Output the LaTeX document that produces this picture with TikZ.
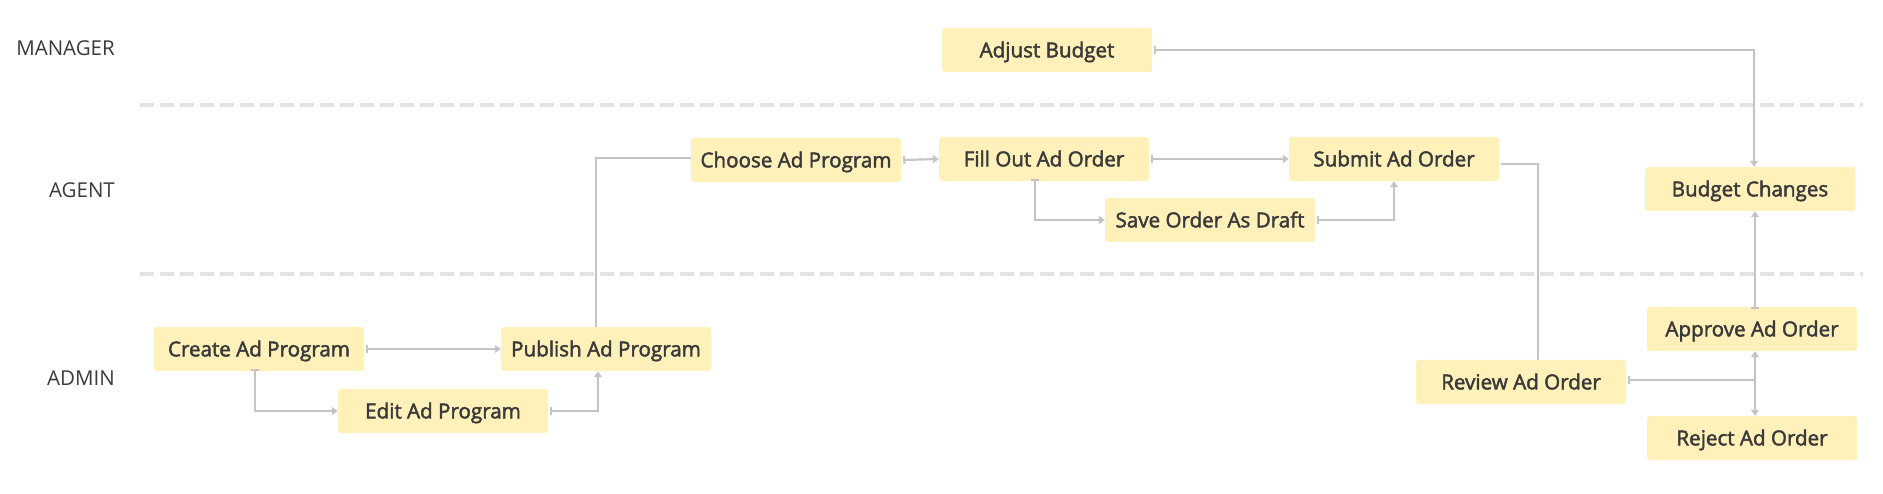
\documentclass[tikz,border=0pt]{standalone}
\usepackage{fontspec}
\setmainfont{Open Sans}
\newfontfamily\semib{Open Sans}[FakeBold=2.2]
\usetikzlibrary{arrows.meta,calc}
\definecolor{boxc}{HTML}{FFF1B9}
\definecolor{textc}{HTML}{3A3A3A}
\definecolor{linec}{HTML}{C4C4C4}
\definecolor{dashc}{HTML}{E3E3E3}
\tikzset{
  stepbox/.style={fill=boxc, rounded corners=3pt, minimum width=210pt, minimum height=44pt, inner sep=0pt, text height=18pt, text depth=3.3pt, text=textc, font=\semib\fontsize{20.6}{24}\selectfont},
  lane/.style={anchor=east, inner sep=0pt, text=textc, font=\fontsize{20.5}{24}\selectfont},
  conn/.style={draw=linec, line width=2.2pt},
  flowt/.style={conn, {Bar[width=8pt,line width=2pt]}-{Triangle[length=6pt,width=8pt]}},
  flowa/.style={conn, -{Triangle[length=6pt,width=8pt]}},
  sep/.style={draw=dashc, line width=4pt, dash pattern=on 14pt off 6pt}
}
\begin{document}
\begin{tikzpicture}[x=1pt,y=-1pt]
\useasboundingbox (0,0) rectangle (1883,494);
% lanes
\draw[sep] (140,105) -- (1863,105);
\draw[sep] (140,274) -- (1863,274);
\node[lane] (lmanager) at (115,48) {MANAGER};
\node[lane] (lagent) at (115,190) {AGENT};
\node[lane] (ladmin) at (115,378) {ADMIN};
% nodes
\node[stepbox] (adjust) at (1047,50) {Adjust Budget};
\node[stepbox] (choose) at (796,160) {Choose Ad Program};
\node[stepbox] (fill) at (1044,159) {Fill Out Ad Order};
\node[stepbox] (submit) at (1394,159) {Submit Ad Order};
\node[stepbox] (save) at (1210,220) {Save Order As Draft};
\node[stepbox] (budget) at (1750,189) {Budget Changes};
\node[stepbox] (create) at (259,349) {Create Ad Program};
\node[stepbox] (publish) at (606,349) {Publish Ad Program};
\node[stepbox] (edit) at (443,411) {Edit Ad Program};
\node[stepbox] (review) at (1521,382) {Review Ad Order};
\node[stepbox] (approve) at (1752,329) {Approve Ad Order};
\node[stepbox] (reject) at (1752,438) {Reject Ad Order};
% connectors
\draw[flowt] ([xshift=2pt]create.east) -- (publish.west);
\draw[flowt] ([xshift=-4pt,yshift=2pt]create.south) |- (edit.west);
\draw[flowt] ([xshift=2pt]edit.east) -| ([xshift=-8pt]publish.south);
\draw[conn] ([xshift=-10pt]publish.north) |- ([yshift=2pt]choose.west);
\draw[flowt] ([xshift=2pt]choose.east) -- (fill.west);
\draw[flowt] ([xshift=2pt]fill.east) -- (submit.west);
\draw[flowt] ([xshift=-9pt,yshift=2pt]fill.south) |- (save.west);
\draw[flowt] ([xshift=2pt]save.east) -| (submit.south);
\draw[conn] ([xshift=2pt,yshift=-5pt]submit.east) -| ([xshift=17pt]review.north);
\draw[flowt] ([xshift=2pt]adjust.east) -| ([xshift=4pt]budget.north);
\draw[flowt] ([xshift=3pt,yshift=-2pt]approve.north) -- ([xshift=5pt]budget.south);
\draw[flowt] ([xshift=2pt,yshift=2pt]review.east) -| ([xshift=3pt]approve.south);
\draw[flowa] ([xshift=3pt,yshift=2pt]review.east -| approve.south) -- ([xshift=3pt]reject.north);
\end{tikzpicture}
\end{document}
